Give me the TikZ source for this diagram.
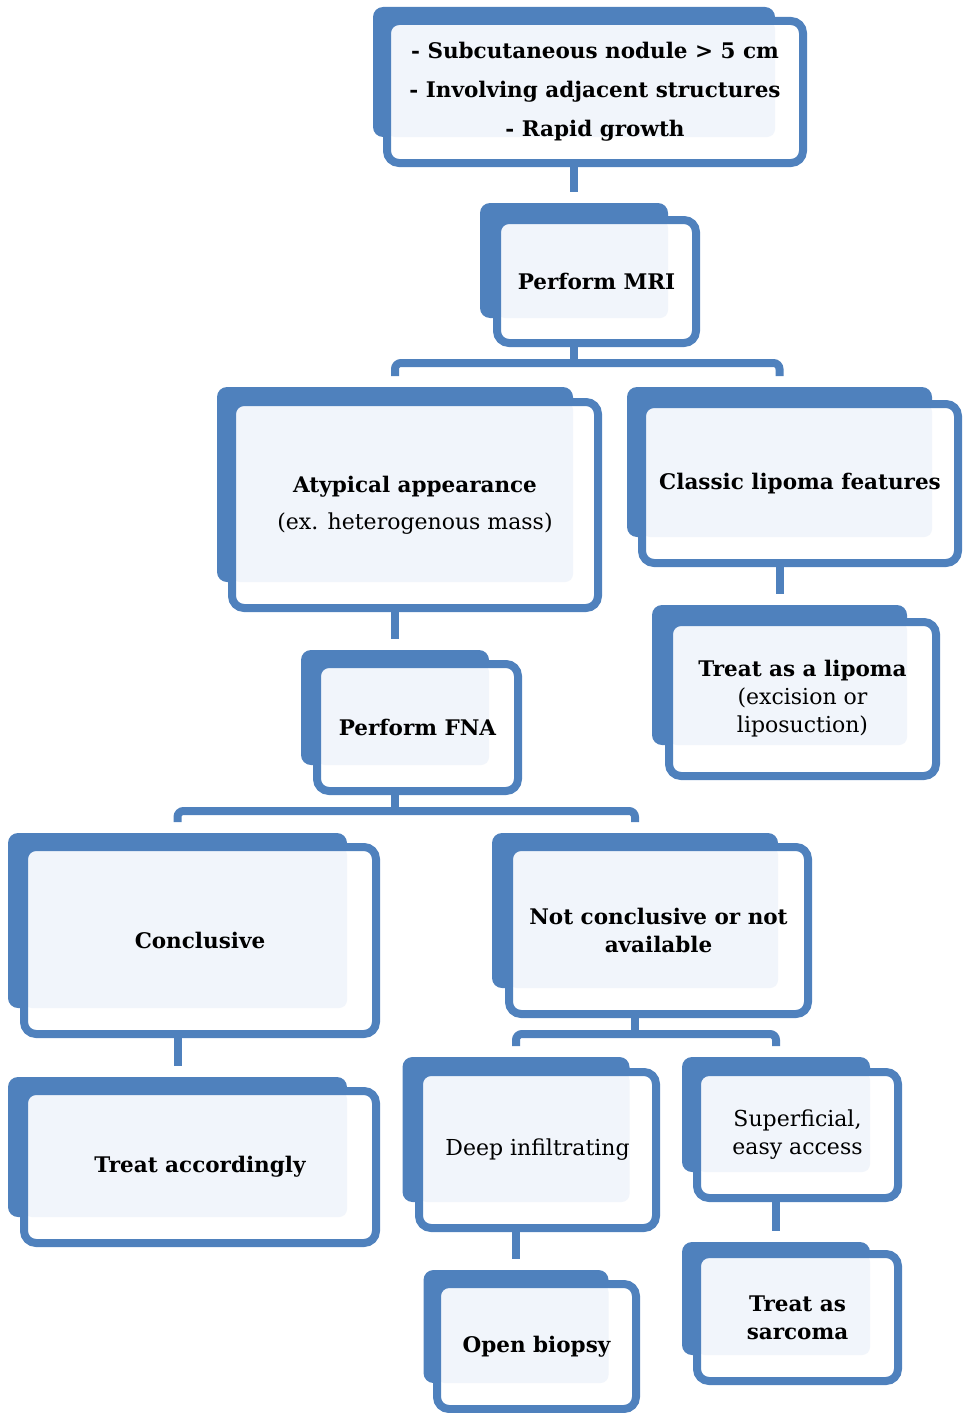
\documentclass[tikz,border=0pt]{standalone}
\usepackage{fontspec}
\setmainfont{DejaVu Serif}
\usepackage{xcolor}
\definecolor{boxblue}{RGB}{79,129,189}
\definecolor{boxtint}{RGB}{241,245,251}

\begin{document}
\begin{tikzpicture}[
    x=1pt, y=-1pt,
    backbox/.style={rectangle, fill=boxblue, rounded corners=10pt, inner sep=0pt, outer sep=0pt},
    frontbox/.style={rectangle, draw=boxblue, fill=white, line width=8pt, rounded corners=12pt, inner sep=0pt, outer sep=0pt, align=center,
        font=\fontsize{21.5}{28}\selectfont\bfseries,
        path picture={\fill[boxtint, rounded corners=8pt] (path picture bounding box.north west) rectangle (#1.south east);}},
    plain/.style={font=\fontsize{22}{28}\selectfont\mdseries},
    link/.style={draw=boxblue, line width=8pt, rounded corners=6pt, shorten >=11pt}
]
    \useasboundingbox (0,0) rectangle (962,1413);

    % Top of the chart
    \node [backbox, minimum width=402pt, minimum height=130pt] (symB) at (574,72) {};
    \node [frontbox=symB, minimum width=416pt, minimum height=142pt, font=\fontsize{21.5}{39}\selectfont\bfseries] (sym) at (595,92) {
        - Subcutaneous nodule > 5 cm\\
        - Involving adjacent structures\\
        - Rapid growth
    };

    \node [backbox, minimum width=188pt, minimum height=115pt] (mriB) at (574,260.5) {};
    \node [frontbox=mriB, minimum width=199pt, minimum height=123pt] (mri) at (596.5,281.5) {Perform MRI};

    % Left branch
    \node [backbox, minimum width=356pt, minimum height=195pt] (atypB) at (395,484.5) {};
    \node [frontbox=atypB, minimum width=366pt, minimum height=206pt, font=\fontsize{21.5}{37}\selectfont\bfseries] (atyp) at (415,505) {
        Atypical appearance\\
        \fontsize{22}{37}\selectfont\mdseries (ex. heterogenous mass)
    };

    \node [backbox, minimum width=188pt, minimum height=115pt] (fnaB) at (395,707.5) {};
    \node [frontbox=fnaB, minimum width=201pt, minimum height=127pt] (fna) at (417.5,727.5) {Perform FNA};

    % Right branch
    \node [backbox, minimum width=305pt, minimum height=150pt] (classicB) at (779.5,462) {};
    \node [frontbox=classicB, minimum width=316pt, minimum height=159pt] (classic) at (800,483.5) {Classic lipoma features};

    \node [backbox, minimum width=255pt, minimum height=140pt] (lipomaB) at (779.5,675) {};
    \node [frontbox=lipomaB, minimum width=267pt, minimum height=154pt] (lipoma) at (802.5,699) {
        Treat as a lipoma\\
        \fontsize{22}{28}\selectfont\mdseries (excision or\\
        \fontsize{22}{28}\selectfont\mdseries liposuction)
    };

    % FNA outcomes
    \node [backbox, minimum width=339pt, minimum height=175pt] (conclB) at (177.5,920.5) {};
    \node [frontbox=conclB, minimum width=352pt, minimum height=187pt] (concl) at (200,940.5) {Conclusive};

    \node [backbox, minimum width=339pt, minimum height=140pt] (accB) at (177.5,1147) {};
    \node [frontbox=accB, minimum width=352pt, minimum height=152pt] (acc) at (200,1167) {Treat accordingly};

    \node [backbox, minimum width=286pt, minimum height=155pt] (notcB) at (635,910.5) {};
    \node [frontbox=notcB, minimum width=299pt, minimum height=167pt] (notc) at (658.5,930.5) {
        Not conclusive or not\\
        available
    };

    % Bottom row
    \node [backbox, minimum width=227pt, minimum height=145pt] (deepB) at (516,1129.5) {};
    \node [frontbox=deepB, plain, minimum width=237pt, minimum height=156pt] (deep) at (537.5,1150) {Deep infiltrating};

    \node [backbox, minimum width=188pt, minimum height=115pt] (supB) at (776,1114.5) {};
    \node [frontbox=supB, plain, minimum width=201pt, minimum height=126pt] (sup) at (797.5,1135) {
        Superficial,\\
        easy access
    };

    \node [backbox, minimum width=185pt, minimum height=113pt] (biopsyB) at (516,1326.5) {};
    \node [frontbox=biopsyB, minimum width=199pt, minimum height=125pt] (biopsy) at (536.5,1346.5) {Open biopsy};

    \node [backbox, minimum width=188pt, minimum height=113pt] (sarcB) at (776,1298.5) {};
    \node [frontbox=sarcB, minimum width=201pt, minimum height=127pt] (sarc) at (797.5,1317.5) {
        Treat as\\
        sarcoma
    };

    % Connectors
    \draw [link] (sym.south -| symB.south) -- (symB.south |- mriB.north);

    \draw [link, shorten <=11pt] (atypB.north) -- ++(0,-24) coordinate (mriJ) -| (classicB.north);
    \draw [link, shorten >=0pt] (mri.south -| mriB.south) -- (mriB.south |- mriJ);

    \draw [link] (atyp.south -| atypB.south) -- (atypB.south |- fnaB.north);
    \draw [link] (classic.south -| classicB.south) -- (classicB.south |- lipomaB.north);

    \draw [link, shorten <=11pt] (conclB.north) -- ++(0,-22) coordinate (fnaJ) -| (notcB.north);
    \draw [link, shorten >=0pt] (fna.south -| fnaB.south) -- (fnaB.south |- fnaJ);

    \draw [link] (concl.south -| conclB.south) -- (conclB.south |- accB.north);

    \draw [link, shorten <=11pt] (deepB.north) -- ++(0,-23) coordinate (notcJ) -| (supB.north);
    \draw [link, shorten >=0pt] (notc.south -| notcB.south) -- (notcB.south |- notcJ);

    \draw [link] (deep.south -| deepB.south) -- (deepB.south |- biopsyB.north);
    \draw [link] (sup.south -| supB.south) -- (supB.south |- sarcB.north);

\end{tikzpicture}
\end{document}
